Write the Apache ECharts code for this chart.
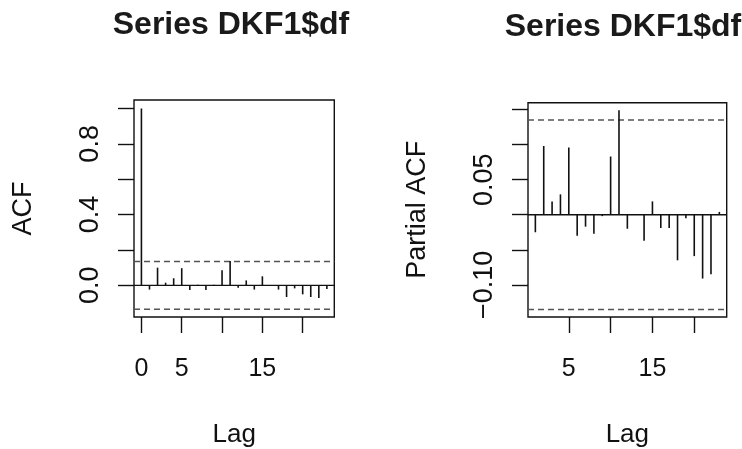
<!DOCTYPE html>
<html>
<head>
<meta charset="utf-8">
<script src="https://cdn.jsdelivr.net/npm/echarts@6/dist/echarts.min.js"></script>
<style>
html,body{margin:0;padding:0;background:#fff;}
#chart{width:742px;height:449px;}
</style>
</head>
<body>
<div id="chart"></div>
<script>
// ---- data ----
var titleText = 'Series DKF1$df';
var acfLags = [0,1,2,3,4,5,6,7,8,9,10,11,12,13,14,15,16,17,18,19,20,21,22,23];
var acfValues = [1.0,-0.024,0.100,0.015,0.040,0.097,-0.026,0.004,-0.026,0.004,0.085,0.138,-0.013,0.028,-0.024,0.051,-0.004,-0.024,-0.066,-0.017,-0.051,-0.066,-0.072,-0.020];
var pacfLags = [1,2,3,4,5,6,7,8,9,10,11,12,13,14,15,16,17,18,19,20,21,22,23];
var pacfValues = [-0.025,0.098,0.019,0.029,0.096,-0.030,-0.017,-0.027,-0.002,0.083,0.149,-0.020,0.001,-0.037,0.019,-0.019,-0.019,-0.065,-0.005,-0.059,-0.091,-0.085,0.004];
var ciBound = 0.135;
var acfXTicks = [0,5,10,15,20];
var acfXLabels = [0,5,15];
var acfYTicks = [0,0.2,0.4,0.6,0.8,1.0];
var acfYLabels = [0,0.4,0.8];
var pacfXTicks = [5,10,15,20];
var pacfXLabels = [5,15];
var pacfYTicks = [-0.10,-0.05,0,0.05,0.10,0.15];
var pacfYLabels = [-0.10,0.05];

// ---- chart ----
var FONT = '"Liberation Sans", Arial, Helvetica, sans-serif';
var chart = echarts.init(document.getElementById('chart'), null, {renderer:'canvas'});

function pairs(xs, ys){ return xs.map(function(x,i){ return [x, ys[i]]; }); }

function spikeSeries(idx, xs, ys){
  return {
    type:'custom', xAxisIndex:idx, yAxisIndex:idx,
    data: pairs(xs, ys),
    renderItem: function(params, api){
      var p0 = api.coord([api.value(0), 0]);
      var p1 = api.coord([api.value(0), api.value(1)]);
      return {type:'line', shape:{x1:p0[0],y1:p0[1],x2:p1[0],y2:p1[1]},
              style:{stroke:'#111', lineWidth:1.6}};
    },
    silent:true, z:3
  };
}
function hLine(idx, xmin, xmax, y, dashed){
  return {
    type:'line', xAxisIndex:idx, yAxisIndex:idx,
    data:[[xmin,y],[xmax,y]], symbol:'none', silent:true,
    lineStyle:{color: dashed ? '#555' : '#111', width: dashed ? 1.5 : 1.4, type: dashed ? [6,4] : 'solid'},
    z: dashed ? 2 : 4
  };
}

function xAxis(idx, min, max, ticks, labels){
  return {
    type:'value', gridIndex:idx, min:min, max:max,
    axisLine:{show:false, onZero:false},
    splitLine:{show:false},
    axisTick:{show:true, inside:false, length:16, customValues:ticks, lineStyle:{color:'#111', width:1.4}},
    axisLabel:{show:true, customValues:labels, margin:40, fontFamily:FONT, fontSize:25, color:'#111'},
    name:'Lag', nameLocation:'middle', nameGap:105,
    nameTextStyle:{fontFamily:FONT, fontSize:26, color:'#111'}
  };
}
function yAxis(idx, min, max, ticks, labels, name, fmt){
  return {
    type:'value', gridIndex:idx, min:min, max:max,
    axisLine:{show:false, onZero:false},
    splitLine:{show:false},
    axisTick:{show:true, inside:false, length:16, customValues:ticks, lineStyle:{color:'#111', width:1.4}},
    axisLabel:{show:true, customValues:labels, rotate:90, margin:30, fontFamily:FONT, fontSize:27, color:'#111', formatter:fmt},
    name:name, nameLocation:'middle', nameGap:97, nameRotate:90,
    nameTextStyle:{fontFamily:FONT, fontSize:27, color:'#111'}
  };
}

var option = {
  animation:false,
  backgroundColor:'#fff',
  title:[
    {text:titleText, left:231, top:9, textAlign:'center', padding:0,
     textStyle:{fontFamily:FONT, fontSize:32, fontWeight:'bold', color:'#1a1a1a'}},
    {text:titleText, left:623, top:11, textAlign:'center', padding:0,
     textStyle:{fontFamily:FONT, fontSize:32, fontWeight:'bold', color:'#1a1a1a'}}
  ],
  grid:[
    {left:134, top:100, width:200.3, height:222.7, show:true, borderColor:'#111', borderWidth:1.4, backgroundColor:'transparent', containLabel:false},
    {left:528, top:102.7, width:198.7, height:220.6, show:true, borderColor:'#111', borderWidth:1.4, backgroundColor:'transparent', containLabel:false}
  ],
  xAxis:[
    xAxis(0, -0.92, 23.92, acfXTicks, acfXLabels),
    xAxis(1, 0.12, 23.88, pacfXTicks, pacfXLabels)
  ],
  yAxis:[
    yAxis(0, -0.179, 1.048, acfYTicks, acfYLabels, 'ACF', function(v){ return v.toFixed(1); }),
    yAxis(1, -0.1458, 0.1597, pacfYTicks, pacfYLabels, 'Partial ACF', function(v){ var s = Math.abs(v).toFixed(2); return v < 0 ? '\u2212' + s : s; })
  ],
  series:[
    spikeSeries(0, acfLags, acfValues),
    hLine(0, -0.92, 23.92, 0, false),
    hLine(0, -0.92, 23.92, ciBound, true),
    hLine(0, -0.92, 23.92, -ciBound, true),
    spikeSeries(1, pacfLags, pacfValues),
    hLine(1, 0.12, 23.88, 0, false),
    hLine(1, 0.12, 23.88, ciBound, true),
    hLine(1, 0.12, 23.88, -ciBound, true)
  ]
};
chart.setOption(option);
</script>
</body>
</html>
